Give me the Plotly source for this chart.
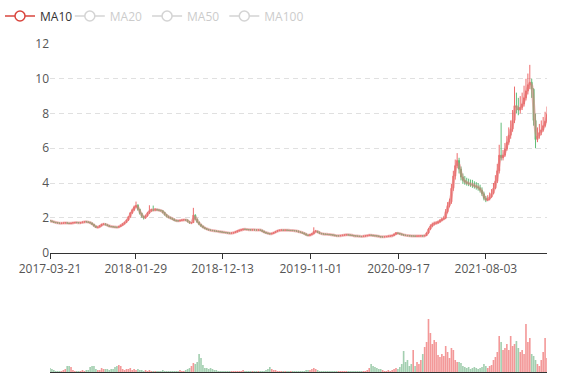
import pandas as pd
import plotly.graph_objects as go

# ---------------- data (weekly samples) ----------------
start_date = "2017-03-21"

open_ = [
    1.85, 1.82, 1.77, 1.74, 1.72, 1.70, 1.67, 1.69, 1.70, 1.71,
    1.69, 1.67, 1.70, 1.71, 1.73, 1.72, 1.70, 1.72, 1.75, 1.78,
    1.76, 1.74, 1.70, 1.62, 1.52, 1.44, 1.47, 1.54, 1.62, 1.65,
    1.60, 1.55, 1.50, 1.49, 1.47, 1.46, 1.45, 1.50, 1.57, 1.65,
    1.74, 1.86, 2.05, 2.28, 2.45, 2.62, 2.72, 2.48, 2.25, 2.08,
    2.00, 2.12, 2.28, 2.40, 2.46, 2.44, 2.47, 2.45, 2.43, 2.40,
    2.30, 2.18, 2.08, 2.02, 1.97, 1.92, 1.85, 1.83, 1.82, 1.85,
    1.87, 1.88, 1.87, 1.78, 1.70, 1.72, 2.15, 1.92, 1.75, 1.62,
    1.52, 1.44, 1.38, 1.33, 1.30, 1.27, 1.26, 1.24, 1.22, 1.21,
    1.19, 1.17, 1.15, 1.14, 1.12, 1.11, 1.12, 1.15, 1.19, 1.24,
    1.28, 1.31, 1.34, 1.33, 1.32, 1.31, 1.30, 1.31, 1.30, 1.29,
    1.30, 1.28, 1.22, 1.16, 1.12, 1.09, 1.07, 1.10, 1.15, 1.21,
    1.26, 1.28, 1.29, 1.28, 1.29, 1.28, 1.27, 1.27, 1.26, 1.25,
    1.23, 1.19, 1.16, 1.12, 1.07, 1.01, 0.98, 1.03, 1.08, 1.20,
    1.22, 1.17, 1.10, 1.08, 1.06, 1.05, 1.04, 1.03, 1.02, 1.00,
    0.97, 0.96, 0.96, 0.98, 0.99, 1.01, 1.02, 1.01, 1.00, 0.98,
    0.96, 0.95, 0.94, 0.93, 0.92, 0.94, 0.96, 0.98, 1.00, 0.99,
    0.97, 0.96, 0.95, 0.92, 0.90, 0.90, 0.91, 0.92, 0.94, 0.95,
    0.98, 1.05, 1.12, 1.10, 1.07, 1.03, 1.00, 0.98, 0.97, 0.96,
    0.95, 0.95, 0.94, 0.95, 0.95, 0.96, 0.95, 0.98, 1.12, 1.35,
    1.52, 1.62, 1.68, 1.70, 1.76, 1.84, 1.92, 1.98, 2.35, 2.70,
    2.92, 3.70, 4.40, 5.00, 5.30, 4.80, 4.35, 4.15, 4.05, 4.00,
    3.96, 3.92, 3.88, 3.82, 3.78, 3.72, 3.58, 3.38, 3.12, 3.02,
    3.08, 3.20, 3.40, 3.70, 4.10, 4.70, 5.60, 5.45, 5.60, 5.95,
    6.35, 6.75, 7.10, 7.60, 8.45, 8.35, 8.20, 8.35, 8.55, 8.90,
    9.30, 9.65, 9.80, 9.40, 7.60, 6.50, 6.70, 6.90, 7.05, 7.30,
    7.55,
]

close = [
    1.82, 1.78, 1.74, 1.72, 1.70, 1.68, 1.69, 1.70, 1.71, 1.69,
    1.67, 1.69, 1.71, 1.73, 1.72, 1.71, 1.72, 1.75, 1.77, 1.76,
    1.74, 1.70, 1.62, 1.52, 1.45, 1.47, 1.54, 1.62, 1.64, 1.60,
    1.55, 1.50, 1.49, 1.47, 1.46, 1.45, 1.50, 1.57, 1.65, 1.74,
    1.86, 2.05, 2.28, 2.45, 2.62, 2.70, 2.48, 2.25, 2.08, 2.00,
    2.12, 2.28, 2.40, 2.46, 2.44, 2.47, 2.45, 2.43, 2.40, 2.30,
    2.18, 2.08, 2.02, 1.97, 1.92, 1.85, 1.83, 1.82, 1.85, 1.87,
    1.88, 1.87, 1.78, 1.70, 1.72, 2.15, 1.92, 1.75, 1.62, 1.52,
    1.44, 1.38, 1.33, 1.30, 1.27, 1.26, 1.24, 1.22, 1.21, 1.19,
    1.17, 1.15, 1.14, 1.12, 1.11, 1.12, 1.15, 1.19, 1.24, 1.28,
    1.31, 1.34, 1.33, 1.32, 1.31, 1.30, 1.31, 1.30, 1.29, 1.30,
    1.28, 1.22, 1.16, 1.12, 1.09, 1.07, 1.10, 1.15, 1.21, 1.26,
    1.28, 1.29, 1.28, 1.29, 1.28, 1.27, 1.27, 1.26, 1.25, 1.23,
    1.19, 1.16, 1.12, 1.07, 1.01, 0.98, 1.03, 1.08, 1.20, 1.22,
    1.17, 1.10, 1.08, 1.06, 1.05, 1.04, 1.03, 1.02, 1.00, 0.97,
    0.96, 0.96, 0.98, 0.99, 1.01, 1.02, 1.01, 1.00, 0.98, 0.96,
    0.95, 0.94, 0.93, 0.92, 0.94, 0.96, 0.98, 1.00, 0.99, 0.97,
    0.96, 0.95, 0.92, 0.90, 0.90, 0.91, 0.92, 0.94, 0.95, 0.98,
    1.05, 1.12, 1.10, 1.07, 1.03, 1.00, 0.98, 0.97, 0.96, 0.95,
    0.95, 0.94, 0.95, 0.95, 0.96, 0.95, 0.98, 1.12, 1.35, 1.52,
    1.62, 1.68, 1.70, 1.76, 1.84, 1.92, 1.98, 2.35, 2.70, 2.92,
    3.70, 4.40, 5.00, 5.30, 4.80, 4.35, 4.15, 4.05, 4.00, 3.96,
    3.92, 3.88, 3.82, 3.78, 3.72, 3.58, 3.38, 3.12, 3.02, 3.08,
    3.20, 3.40, 3.70, 4.10, 4.70, 5.60, 5.45, 5.60, 5.95, 6.35,
    6.75, 7.10, 7.60, 8.45, 8.35, 8.20, 8.35, 8.55, 8.90, 9.30,
    9.65, 9.80, 9.40, 7.60, 6.50, 6.70, 6.90, 7.05, 7.30, 7.55,
    7.95,
]

high = [
    1.87, 1.84, 1.79, 1.76, 1.74, 1.72, 1.71, 1.72, 1.73, 1.73,
    1.71, 1.71, 1.73, 1.75, 1.75, 1.74, 1.74, 1.77, 1.80, 1.80,
    1.78, 1.76, 1.72, 1.64, 1.55, 1.49, 1.57, 1.65, 1.67, 1.67,
    1.62, 1.57, 1.52, 1.51, 1.49, 1.48, 1.52, 1.60, 1.68, 1.77,
    1.90, 2.10, 2.33, 2.52, 2.70, 2.93, 2.78, 2.52, 2.30, 2.12,
    2.18, 2.34, 2.72, 2.52, 2.70, 2.55, 2.52, 2.50, 2.46, 2.44,
    2.34, 2.22, 2.12, 2.06, 2.00, 1.95, 1.88, 1.86, 1.88, 1.90,
    1.92, 1.92, 1.90, 1.80, 1.76, 2.57, 2.20, 1.95, 1.78, 1.65,
    1.55, 1.47, 1.41, 1.36, 1.33, 1.30, 1.29, 1.27, 1.25, 1.24,
    1.22, 1.20, 1.18, 1.17, 1.15, 1.15, 1.18, 1.22, 1.27, 1.31,
    1.34, 1.37, 1.38, 1.36, 1.35, 1.34, 1.34, 1.34, 1.33, 1.33,
    1.33, 1.31, 1.25, 1.19, 1.15, 1.12, 1.13, 1.18, 1.24, 1.29,
    1.31, 1.33, 1.32, 1.32, 1.32, 1.31, 1.30, 1.30, 1.29, 1.28,
    1.26, 1.22, 1.19, 1.15, 1.10, 1.04, 1.06, 1.11, 1.45, 1.30,
    1.25, 1.20, 1.13, 1.11, 1.09, 1.08, 1.07, 1.06, 1.05, 1.03,
    1.00, 0.99, 1.01, 1.02, 1.04, 1.05, 1.05, 1.04, 1.03, 1.00,
    0.98, 0.97, 0.96, 0.95, 0.97, 0.99, 1.01, 1.03, 1.03, 1.02,
    1.00, 0.99, 0.98, 0.95, 0.93, 0.94, 0.95, 0.97, 0.98, 1.01,
    1.09, 1.18, 1.16, 1.13, 1.10, 1.06, 1.03, 1.01, 1.00, 0.99,
    0.98, 0.98, 0.98, 0.98, 0.99, 0.99, 1.01, 1.16, 1.42, 1.62,
    1.72, 1.78, 1.80, 1.84, 1.92, 2.00, 2.08, 2.50, 2.90, 3.10,
    3.95, 4.70, 5.35, 5.72, 5.45, 4.95, 4.55, 4.40, 4.30, 4.25,
    4.20, 4.18, 4.10, 4.05, 4.00, 3.90, 3.75, 3.50, 3.25, 3.30,
    3.45, 3.65, 4.00, 4.45, 5.10, 6.20, 7.47, 5.90, 6.30, 6.70,
    7.20, 7.60, 8.20, 9.55, 9.20, 8.90, 9.00, 9.20, 9.60, 10.00,
    10.30, 10.80, 10.00, 9.45, 8.00, 7.20, 7.40, 7.60, 7.80, 8.10,
    8.40,
]

low = [
    1.79, 1.75, 1.71, 1.69, 1.67, 1.65, 1.64, 1.66, 1.67, 1.66,
    1.64, 1.64, 1.67, 1.68, 1.69, 1.68, 1.67, 1.69, 1.72, 1.73,
    1.71, 1.67, 1.59, 1.49, 1.41, 1.40, 1.44, 1.51, 1.59, 1.57,
    1.52, 1.47, 1.46, 1.44, 1.43, 1.42, 1.42, 1.47, 1.54, 1.62,
    1.70, 1.82, 2.00, 2.22, 2.38, 2.55, 2.40, 2.18, 2.00, 1.90,
    1.94, 2.06, 2.22, 2.34, 2.38, 2.38, 2.40, 2.38, 2.36, 2.25,
    2.12, 2.02, 1.97, 1.92, 1.87, 1.80, 1.78, 1.78, 1.79, 1.82,
    1.84, 1.82, 1.73, 1.66, 1.66, 1.70, 1.85, 1.70, 1.57, 1.47,
    1.40, 1.34, 1.30, 1.27, 1.24, 1.23, 1.21, 1.19, 1.17, 1.16,
    1.14, 1.12, 1.11, 1.09, 1.08, 1.08, 1.09, 1.12, 1.16, 1.21,
    1.25, 1.28, 1.30, 1.29, 1.28, 1.27, 1.27, 1.27, 1.26, 1.26,
    1.25, 1.19, 1.13, 1.09, 1.06, 1.04, 1.05, 1.07, 1.12, 1.18,
    1.23, 1.25, 1.25, 1.25, 1.25, 1.24, 1.24, 1.23, 1.22, 1.20,
    1.16, 1.13, 1.09, 1.04, 0.98, 0.95, 0.96, 1.00, 1.05, 1.15,
    1.12, 1.07, 1.05, 1.03, 1.02, 1.01, 1.00, 0.99, 0.97, 0.94,
    0.93, 0.93, 0.94, 0.96, 0.97, 0.99, 0.98, 0.97, 0.95, 0.93,
    0.92, 0.91, 0.90, 0.89, 0.90, 0.92, 0.94, 0.96, 0.96, 0.94,
    0.93, 0.92, 0.89, 0.87, 0.87, 0.88, 0.89, 0.90, 0.92, 0.93,
    0.96, 1.02, 1.06, 1.03, 0.99, 0.97, 0.95, 0.94, 0.93, 0.92,
    0.92, 0.91, 0.92, 0.92, 0.93, 0.92, 0.93, 0.96, 1.08, 1.30,
    1.46, 1.56, 1.62, 1.66, 1.72, 1.80, 1.88, 1.92, 2.25, 2.60,
    2.80, 3.55, 4.20, 4.85, 4.55, 4.15, 3.95, 3.90, 3.85, 3.82,
    3.78, 3.72, 3.68, 3.62, 3.56, 3.45, 3.25, 3.00, 2.90, 2.95,
    3.00, 3.15, 3.35, 3.65, 4.00, 4.55, 5.30, 5.30, 5.50, 5.85,
    6.20, 6.55, 6.95, 7.45, 8.00, 7.90, 8.00, 8.20, 8.40, 8.75,
    9.10, 9.40, 8.90, 7.30, 6.00, 6.35, 6.55, 6.75, 6.95, 7.20,
    7.45,
]

volume = [
    4, 3, 2, 1, 1, 1, 1, 2, 3, 6,
    6, 5, 2, 1, 1, 1, 1, 2, 1, 2,
    2, 5, 6, 6, 3, 2, 2, 4, 3, 3,
    3, 2, 3, 3, 5, 6, 7, 6, 3, 2,
    3, 3, 4, 2, 3, 2, 3, 2, 2, 1,
    2, 1, 2, 1, 1, 1, 1, 1, 1, 2,
    1, 1, 1, 1, 1, 1, 1, 1, 2, 1,
    1, 2, 3, 4, 6, 9, 8, 10, 18, 14,
    7, 4, 4, 3, 4, 3, 2, 2, 1, 1,
    1, 1, 1, 1, 1, 1, 1, 1, 1, 1,
    1, 2, 1, 1, 1, 1, 1, 1, 1, 1,
    1, 1, 1, 2, 3, 5, 3, 2, 2, 1,
    1, 1, 1, 1, 1, 1, 1, 1, 1, 1,
    1, 1, 1, 1, 2, 2, 2, 3, 4, 3,
    2, 1, 1, 1, 1, 1, 1, 1, 1, 1,
    1, 1, 1, 1, 1, 1, 1, 1, 1, 1,
    1, 1, 1, 1, 1, 1, 2, 4, 8, 6,
    5, 4, 3, 3, 2, 1, 1, 2, 1, 2,
    3, 4, 3, 5, 8, 21, 10, 12, 6, 8,
    22, 6, 10, 8, 12, 18, 25, 30, 53, 39,
    28, 32, 30, 17, 15, 18, 16, 26, 20, 14,
    24, 22, 12, 10, 10, 9, 6, 5, 4, 5,
    3, 4, 5, 4, 3, 4, 5, 8, 6, 4,
    6, 7, 12, 15, 20, 36, 30, 22, 24, 28,
    22, 36, 26, 28, 31, 24, 20, 22, 18, 48,
    30, 34, 18, 16, 12, 8, 6, 12, 20, 34,
    14,
]

tick_labels = ["2017-03-21", "2018-01-29", "2018-12-13",
               "2019-11-01", "2020-09-17", "2021-08-03"]
y_ticks = [0, 2, 4, 6, 8, 10, 12]
ma_names = ["MA10", "MA20", "MA50", "MA100"]
ma_windows = [2, 4, 10, 20]   # in weekly samples

# ---------------- figure ----------------
n = len(close)
dates = pd.date_range(start_date, periods=n, freq="7D")
s_close = pd.Series(close)

UP = "#eb5454"
DOWN = "#47b262"
FONT = "Open Sans, Noto Sans, sans-serif"

fig = go.Figure()

# MA10 drawn line (pale, thick) beneath the candles
ma10 = s_close.rolling(ma_windows[0], min_periods=1).mean()
fig.add_trace(go.Scatter(
    x=dates, y=ma10, mode="lines", name="MA10", legendgroup="MA10",
    line=dict(color="rgba(228,120,120,0.5)", width=3, shape="spline", smoothing=0.6),
    showlegend=False, xaxis="x", yaxis="y", hoverinfo="skip",
))

fig.add_trace(go.Candlestick(
    x=dates, open=open_, high=high, low=low, close=close,
    increasing=dict(line=dict(color=UP, width=1), fillcolor=UP),
    decreasing=dict(line=dict(color=DOWN, width=1), fillcolor=DOWN),
    whiskerwidth=0, opacity=0.85, showlegend=False,
    xaxis="x", yaxis="y", hoverinfo="skip",
))

# legend entry for MA10
fig.add_trace(go.Scatter(
    x=[None], y=[None], mode="lines+markers", name="MA10", legendgroup="MA10",
    line=dict(color="#d9463e", width=1.5),
    marker=dict(symbol="circle", size=10, color="white",
                line=dict(color="#d9463e", width=1.5)),
    legend="legend", xaxis="x", yaxis="y",
))
# hidden MA lines
for name, w in zip(ma_names[1:], ma_windows[1:]):
    fig.add_trace(go.Scatter(
        x=dates, y=s_close.rolling(w, min_periods=1).mean(),
        mode="lines+markers", name=name, visible="legendonly",
        line=dict(color="#aaaaaa", width=1.5),
        marker=dict(symbol="circle", size=10, color="white",
                    line=dict(color="#aaaaaa", width=1.5), maxdisplayed=0),
        legend="legend2", xaxis="x", yaxis="y",
    ))

vol_colors = ["rgba(235,84,84,0.6)" if c >= o else "rgba(71,160,98,0.5)"
              for o, c in zip(open_, close)]
fig.add_trace(go.Bar(
    x=dates, y=volume, marker=dict(color=vol_colors, line=dict(width=0)),
    showlegend=False, xaxis="x2", yaxis="y2", hoverinfo="skip",
))

fig.update_layout(
    width=577, height=380,
    margin=dict(l=50, r=30, t=44, b=8, autoexpand=False),
    paper_bgcolor="white", plot_bgcolor="white",
    font=dict(family=FONT, size=12, color="#555"),
    bargap=0.15,
    xaxis=dict(
        domain=[0, 1], anchor="y", type="date",
        range=[dates[0], dates[-1]],
        tickvals=pd.to_datetime(tick_labels), ticktext=tick_labels,
        ticks="outside", ticklen=5, tickcolor="#333",
        showline=True, linecolor="#333", linewidth=1,
        showgrid=False, zeroline=False,
        rangeslider=dict(visible=False),
        tickfont=dict(size=12, color="#555"),
    ),
    yaxis=dict(
        domain=[0.3643, 1], anchor="x", range=[0, 12],
        tickvals=y_ticks, showgrid=True, gridcolor="#e0e0e0",
        griddash="5px,4px", showline=False, zeroline=False,
        ticks="", tickfont=dict(size=12, color="#555"),
    ),
    xaxis2=dict(
        domain=[0, 1], anchor="y2", matches="x", type="date",
        showticklabels=False, ticks="", showline=True,
        linecolor="#333", showgrid=False, zeroline=False,
    ),
    yaxis2=dict(
        domain=[0, 0.2439], anchor="x2", range=[0, 80], visible=False,
    ),
    legend=dict(
        xref="container", yref="container", x=-0.009, y=1 - 16 / 380,
        xanchor="left", yanchor="middle", orientation="h",
        font=dict(size=12, color="#333", family=FONT),
        bgcolor="rgba(0,0,0,0)", itemwidth=30,
    ),
    legend2=dict(
        xref="container", yref="container", x=0.121, y=1 - 16 / 380,
        xanchor="left", yanchor="middle", orientation="h",
        font=dict(size=12, color="#999", family=FONT),
        bgcolor="rgba(0,0,0,0)", itemwidth=30,
    ),
    showlegend=True,
)

fig.write_html(
    "out.html",
    config={"displayModeBar": False},
    post_script="document.body.style.margin='0';document.body.style.overflow='hidden';",
)
